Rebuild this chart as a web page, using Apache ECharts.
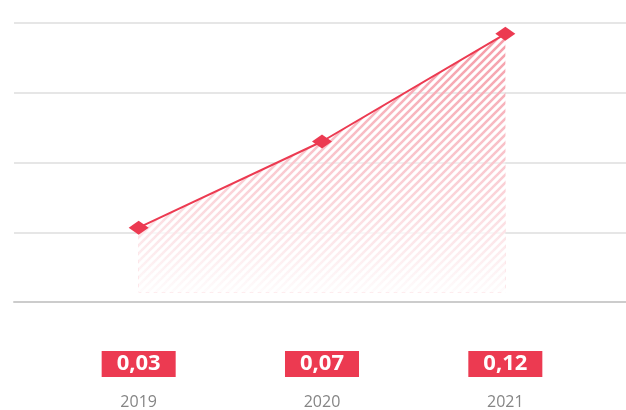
<!DOCTYPE html>
<html>
<head>
<meta charset="utf-8">
<script src="https://cdn.jsdelivr.net/npm/echarts@6/dist/echarts.min.js"></script>
<style>
  html, body { margin: 0; padding: 0; background: #fff; }
  #chart { width: 626px; height: 410px; }
</style>
</head>
<body>
<div id="chart"></div>
<script>
// data
var years = ['2019', '2020', '2021'];
var values = [0.03, 0.07, 0.12];
var valueLabels = ['0,03', '0,07', '0,12'];
var gridSteps = [0, 1, 2, 3, 4];

var RED = '#ec3a51';

// hatch pattern for the area under the line
function makeStripes() {
  var s = 8;
  var c = document.createElement('canvas');
  c.width = s; c.height = s;
  var ctx = c.getContext('2d');
  ctx.strokeStyle = '#f59aa6';
  ctx.lineWidth = 2.6;
  ctx.beginPath();
  ctx.moveTo(0, s); ctx.lineTo(s, 0);
  ctx.moveTo(-s / 2, s / 2); ctx.lineTo(s / 2, -s / 2);
  ctx.moveTo(s / 2, s * 1.5); ctx.lineTo(s * 1.5, s / 2);
  ctx.stroke();
  return c;
}

var chart = echarts.init(document.getElementById('chart'));

var option = {
  animation: false,
  grid: [
    { left: 47, right: 29, top: 23, bottom: 108 },
    { left: 14, right: 0, top: 23, bottom: 108 }
  ],
  xAxis: [
    {
      type: 'category',
      gridIndex: 0,
      data: years,
      boundaryGap: true,
      axisLine: { show: false },
      axisTick: { show: false },
      axisLabel: {
        margin: 49,
        formatter: function (v, i) {
          return '{v|' + valueLabels[i] + '}\n{y|' + v + '}';
        },
        rich: {
          v: {
            color: '#fff',
            backgroundColor: RED,
            fontFamily: 'Open Sans',
            fontWeight: 'bold',
            fontSize: 22,
            lineHeight: 26,
            padding: [2, 15, 2, 15]
          },
          y: {
            color: '#858585',
            fontFamily: 'Open Sans',
            fontSize: 16,
            lineHeight: 18,
            padding: [32, 0, 0, 0]
          }
        }
      }
    },
    {
      type: 'value',
      gridIndex: 1,
      min: 0,
      max: 1,
      show: true,
      axisLine: { show: true, lineStyle: { color: '#cccccc', width: 2 } },
      axisTick: { show: false },
      axisLabel: { show: false },
      splitLine: { show: false }
    }
  ],
  yAxis: [
    {
      type: 'value',
      gridIndex: 0,
      min: -0.0045,
      max: 0.125,
      show: false
    },
    {
      type: 'value',
      gridIndex: 1,
      min: gridSteps[0],
      max: gridSteps[gridSteps.length - 1],
      interval: 1,
      axisLine: { show: false },
      axisTick: { show: false },
      axisLabel: { show: false },
      splitLine: { lineStyle: { color: '#e6e6e6', width: 2 } }
    }
  ],
  series: [
    {
      type: 'line',
      xAxisIndex: 0,
      yAxisIndex: 0,
      data: values,
      symbol: 'none',
      lineStyle: { width: 0, opacity: 0 },
      areaStyle: { color: { image: makeStripes(), repeat: 'repeat' }, opacity: 1 },
      z: 2
    },
    {
      type: 'line',
      xAxisIndex: 0,
      yAxisIndex: 0,
      data: values,
      symbol: 'diamond',
      symbolSize: [20, 14],
      showSymbol: true,
      itemStyle: { color: RED },
      lineStyle: { color: RED, width: 2 },
      areaStyle: {
        opacity: 1,
        color: new echarts.graphic.LinearGradient(0, 0, 0, 1, [
          { offset: 0, color: 'rgba(255,255,255,0)' },
          { offset: 0.5, color: 'rgba(255,255,255,0.45)' },
          { offset: 1, color: 'rgba(255,255,255,0.97)' }
        ])
      },
      z: 3
    }
  ]
};

chart.setOption(option);
</script>
</body>
</html>
